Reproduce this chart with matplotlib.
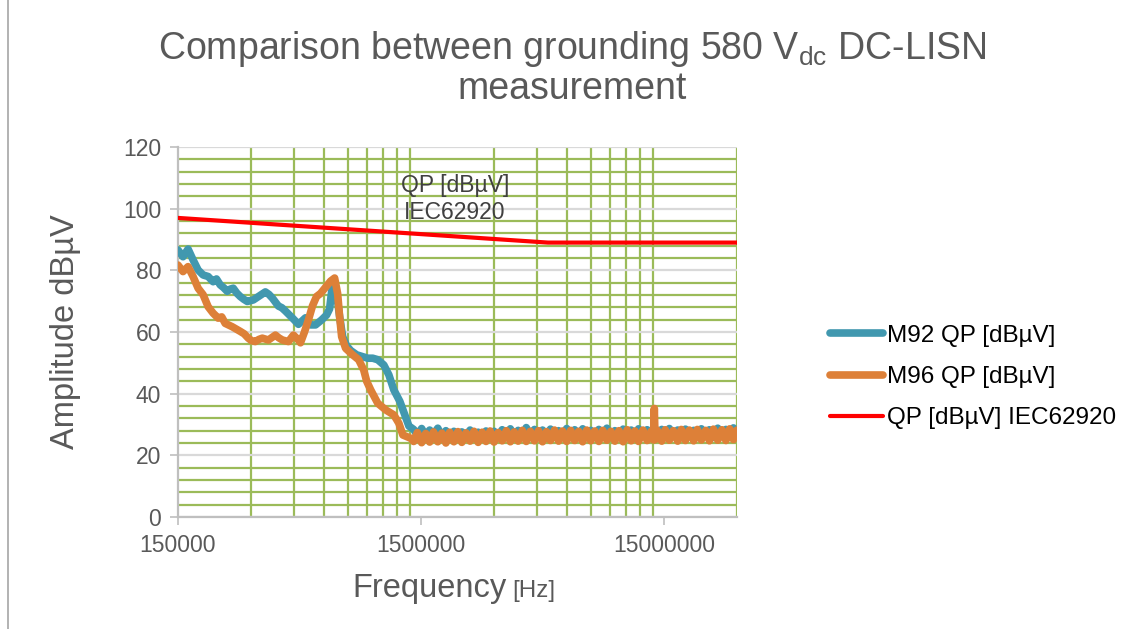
import numpy as np
import matplotlib
matplotlib.use("Agg")
import matplotlib.pyplot as plt
from matplotlib.ticker import FixedLocator, NullFormatter
from matplotlib.lines import Line2D

plt.rcParams['font.family'] = ['Liberation Sans', 'DejaVu Sans']

# ---- data (frequencies in MHz, levels in dBuV) ----
m92_freq_mhz = [
    0.150, 0.1573, 0.1650, 0.1730, 0.1815, 0.1903, 0.1996, 0.2093, 0.2160, 0.2237,
    0.2310, 0.2391, 0.2460, 0.2532, 0.2620, 0.2706, 0.2800, 0.2893, 0.3063, 0.3212,
    0.3330, 0.3433, 0.3550, 0.3669, 0.3885, 0.4010, 0.4152, 0.4300, 0.4480, 0.4698,
    0.5022, 0.5267, 0.5523, 0.5847, 0.6133, 0.6311, 0.6431, 0.6555, 0.6745, 0.6940,
    0.7141, 0.7418, 0.7704, 0.8157, 0.8637, 0.9057, 0.9500, 0.9962, 1.0551, 1.1067,
    1.1605, 1.2283, 1.2883, 1.3383,
    1.40, 1.45, 1.51, 1.57, 1.63, 1.69, 1.76, 1.83, 1.90, 1.97,
    2.05, 2.13, 2.21, 2.30, 2.39, 2.48, 2.58, 2.68, 2.78, 2.89,
    3.00, 3.12, 3.24, 3.37, 3.50, 3.63, 3.77, 3.92, 4.07, 4.23,
    4.40, 4.57, 4.75, 4.93, 5.12, 5.32, 5.53, 5.74, 5.97, 6.20,
    6.44, 6.69, 6.95, 7.22, 7.50, 7.79, 8.10, 8.41, 8.74, 9.08,
    9.43, 9.80, 10.2, 10.6, 11.0, 11.4, 11.8, 12.3, 12.8, 13.3,
    13.7, 14.1, 14.7, 15.2, 15.8, 16.4, 17.1, 17.7, 18.4, 19.1,
    19.9, 20.6, 21.4, 22.3, 23.1, 24.0, 25.0, 26.0, 27.0, 28.0,
    29.0, 30.0,
]
m92_dbuv = [
    86.6, 84.4, 86.9, 83.4, 80.1, 78.5, 78.0, 76.3, 77.2, 75.3,
    74.4, 73.2, 73.9, 74.2, 72.6, 71.5, 70.6, 69.9, 70.4, 71.5,
    72.3, 73.0, 72.2, 71.0, 68.4, 67.9, 66.8, 65.6, 64.2, 62.5,
    64.6, 62.3, 62.3, 63.9, 65.5, 67.5, 73.0, 76.5, 72.5, 65.0,
    58.5, 55.5, 54.0, 52.6, 52.0, 51.5, 51.5, 51.0, 49.3, 46.1,
    41.2, 37.5, 33.0, 29.5,
    28.4, 26.6, 28.7, 26.2, 28.2, 26.8, 28.8, 26.1, 28.0, 26.0,
    27.8, 25.9, 27.6, 26.3, 28.2, 26.2, 27.5, 25.8, 27.9, 26.1,
    27.8, 25.9, 28.3, 26.2, 28.6, 26.4, 28.1, 26.0, 29.0, 26.5,
    28.4, 26.1, 28.2, 26.3, 28.5, 26.0, 28.0, 26.2, 28.7, 26.6,
    28.3, 26.3, 28.6, 25.9, 28.1, 26.4, 28.4, 26.2, 28.8, 26.1,
    28.0, 26.3, 28.5, 26.0, 28.2, 26.5, 28.6, 26.2, 28.3, 25.9,
    28.0, 26.3, 28.4, 26.0, 28.7, 26.2, 28.2, 25.9, 28.5, 26.3,
    28.1, 26.0, 28.6, 26.2, 28.3, 25.8, 28.8, 26.1, 28.4, 26.0,
    28.9, 26.4,
]

m96_freq_mhz = [
    0.150, 0.1573, 0.1650, 0.1730, 0.1815, 0.1903, 0.1996, 0.2093, 0.2195, 0.2270,
    0.2346, 0.2420, 0.2508, 0.2600, 0.2706, 0.2810, 0.2920, 0.3010, 0.3122, 0.3230,
    0.3336, 0.3532, 0.3776, 0.3900, 0.4036, 0.4272, 0.4480, 0.4698, 0.4789, 0.4974,
    0.5167, 0.5368, 0.5576, 0.5792, 0.6075, 0.6371, 0.6618, 0.6809, 0.6940, 0.7074,
    0.7348, 0.7853, 0.8315, 0.8719, 0.8972, 0.9320, 0.9962, 1.0755, 1.1605, 1.2168,
    1.2639, 1.3641,
    1.40, 1.45, 1.51, 1.57, 1.63, 1.69, 1.76, 1.83, 1.90, 1.97,
    2.05, 2.13, 2.21, 2.30, 2.39, 2.48, 2.58, 2.68, 2.78, 2.89,
    3.00, 3.12, 3.24, 3.37, 3.50, 3.63, 3.77, 3.92, 4.07, 4.23,
    4.40, 4.57, 4.75, 4.93, 5.12, 5.32, 5.53, 5.74, 5.97, 6.20,
    6.44, 6.69, 6.95, 7.22, 7.50, 7.79, 8.10, 8.41, 8.74, 9.08,
    9.43, 9.80, 10.2, 10.6, 11.0, 11.4, 11.8, 12.3, 12.8, 13.3,
    13.6, 13.7, 13.8,
    14.1, 14.7, 15.2, 15.8, 16.4, 17.1, 17.7, 18.4, 19.1,
    19.9, 20.6, 21.4, 22.3, 23.1, 24.0, 25.0, 26.0, 27.0, 28.0,
    29.0, 30.0,
]
m96_dbuv = [
    81.7, 79.6, 81.2, 78.0, 74.2, 72.1, 68.2, 66.1, 64.5, 64.9,
    62.8, 62.3, 61.7, 61.0, 60.2, 59.4, 58.0, 57.2, 56.9, 57.6,
    58.0, 57.4, 59.0, 58.1, 57.4, 56.9, 59.0, 57.4, 56.5, 60.0,
    64.0, 68.5, 71.5, 72.5, 74.5, 76.5, 77.5, 72.5, 65.0, 58.5,
    54.7, 52.6, 51.0, 47.7, 44.0, 41.2, 36.9, 34.7, 33.1, 30.4,
    26.6, 25.5,
    24.5, 27.4, 24.1, 27.1, 24.3, 27.6, 24.4, 27.2, 24.0, 27.5,
    24.4, 27.7, 24.2, 27.3, 24.6, 27.8, 24.2, 27.5, 24.5, 27.9,
    24.3, 27.4, 24.7, 28.0, 24.4, 27.6, 24.6, 28.1, 24.5, 27.8,
    24.7, 28.0, 24.4, 27.7, 24.8, 28.2, 24.6, 27.9, 24.5, 28.1,
    24.8, 27.8, 24.4, 28.2, 24.7, 27.9, 24.5, 28.1, 24.9, 27.8,
    24.6, 28.0, 24.4, 28.3, 24.7, 27.9, 24.5, 28.2, 24.8, 27.8,
    25.0, 35.2, 25.1,
    28.1, 24.6, 28.3, 24.9, 28.0, 24.6, 28.4, 24.8, 28.2,
    24.7, 28.4, 25.0, 28.1, 24.7, 28.5, 24.9, 28.3, 24.8, 28.6,
    25.1, 28.2,
]

limit_freq_mhz = [0.15, 5.0, 30.0]
limit_dbuv = [97.0, 89.0, 89.0]

x_major = [150000, 1500000, 15000000]
x_major_labels = ["150000", "1500000", "15000000"]

# ---- figure ----
fig = plt.figure(figsize=(11.41, 6.29), dpi=100)
ax = fig.add_axes([178 / 1141, 1 - 517 / 629, (737 - 178) / 1141, (517 - 147) / 629])

text_gray = "#595959"
grid_green = "#9BBB59"

ax.set_xscale("log")
ax.set_xlim(150000, 30000000)
ax.set_ylim(0, 120)

ax.xaxis.set_major_locator(FixedLocator(x_major))
ax.set_xticklabels(x_major_labels)
minor_x = [150000 * k for k in range(2, 10)] + [1500000 * k for k in range(2, 10)] + [30000000]
ax.xaxis.set_minor_locator(FixedLocator(minor_x))
ax.xaxis.set_minor_formatter(NullFormatter())

ax.set_yticks(range(0, 121, 20))
ax.yaxis.set_minor_locator(FixedLocator([v for v in range(0, 121, 4) if v % 20 != 0]))

ax.grid(False, which="major", axis="x")
ax.grid(True, which="major", axis="y", color="#D9D9D9", linewidth=1.6)
ax.grid(True, which="minor", axis="both", color=grid_green, linewidth=1.6)
ax.set_axisbelow(True)

ax.tick_params(axis="both", which="major", length=6, width=1.2, color="#BFBFBF",
               labelsize=16.5, labelcolor=text_gray, pad=6)
ax.tick_params(axis="both", which="minor", length=0)

for side in ("top", "right"):
    ax.spines[side].set_visible(False)
for side in ("left", "bottom"):
    ax.spines[side].set_color("#BFBFBF")
    ax.spines[side].set_linewidth(1.6)

hz = 1e6
ax.plot(np.array(m92_freq_mhz) * hz, m92_dbuv, color="#4198AF", linewidth=5.5,
        solid_joinstyle="round", solid_capstyle="round", label="M92 QP [dBµV]", zorder=3)
ax.plot(np.array(m96_freq_mhz) * hz, m96_dbuv, color="#DD8038", linewidth=5.5,
        solid_joinstyle="round", solid_capstyle="round", label="M96 QP [dBµV]", zorder=4)
ax.plot(np.array(limit_freq_mhz) * hz, limit_dbuv, color="#FF0000", linewidth=3.0,
        label="QP [dBµV] IEC62920", zorder=5)

ax.text(455 / 1141, 1 - 199 / 629, "QP [dBµV]\nIEC62920", transform=fig.transFigure,
        ha="center", va="center", fontsize=16.5, color="#404040", linespacing=1.2)

ax.set_ylabel("Amplitude dBµV", fontsize=23.5, color=text_gray, labelpad=30)
fig.text(507 / 1141, 1 - 597 / 629, "Frequency", ha="right", va="baseline",
         fontsize=23.5, color=text_gray)
fig.text(512 / 1141, 1 - 597 / 629, "[Hz]", ha="left", va="baseline",
         fontsize=17.5, color=text_gray)

fig.text(572 / 1141, 1 - 29 / 629,
         "Comparison between grounding 580 V$_{\\mathregular{dc}}$ DC-LISN\nmeasurement",
         ha="center", va="top", fontsize=27, color=text_gray, linespacing=1.08)

leg = fig.legend(loc="center left", bbox_to_anchor=(830 / 1141, 1 - 377 / 629),
                 frameon=False, fontsize=17.5, handlelength=2.2, handletextpad=0.15,
                 labelspacing=0.8, borderpad=0, borderaxespad=0)
for line in leg.get_lines():
    line.set_solid_capstyle("round")

# chart area border on the left
fig.add_artist(Line2D([8 / 1141, 8 / 1141], [0, 1], transform=fig.transFigure,
                      color="#A6A6A6", linewidth=1.2))

fig.savefig("out.png", dpi=100)
plt.close(fig)
